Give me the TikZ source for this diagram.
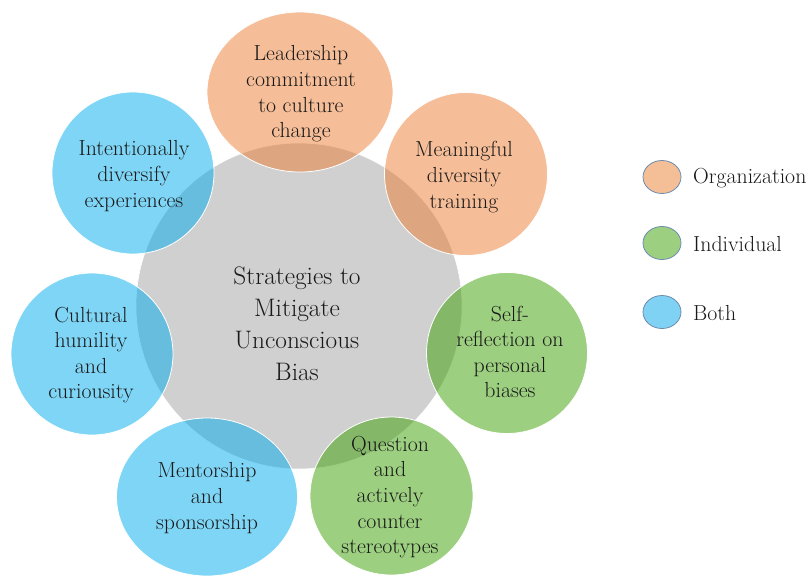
\documentclass[tikz,border=0pt]{standalone}
\usepackage{tikz}
\definecolor{orgfill}{RGB}{237,125,49}
\definecolor{indfill}{RGB}{59,159,1}
\definecolor{bothfill}{RGB}{0,172,236}
\definecolor{orgsolid}{RGB}{244,190,150}
\definecolor{indsolid}{RGB}{157,207,128}
\definecolor{bothsolid}{RGB}{127,210,243}
\definecolor{centergray}{RGB}{208,208,208}
\definecolor{txt}{RGB}{25,25,25}
\definecolor{legline}{RGB}{110,140,175}
\tikzset{
  bubble/.style={fill opacity=0.5, draw=white, draw opacity=1, line width=0.8pt},
  label/.style={align=center, text=txt, font=\fontsize{21.8}{25.6}\selectfont, inner sep=0pt},
  mainlabel/.style={align=center, text=txt, font=\fontsize{25.3}{32}\selectfont, inner sep=0pt},
  legtext/.style={anchor=west, text=txt, font=\fontsize{21.8}{24}\selectfont, inner sep=0pt},
  legdot/.style={draw=legline, line width=0.8pt}
}
\begin{document}
\begin{tikzpicture}[x=1pt,y=-1pt]
\useasboundingbox (0,0) rectangle (808,576);
% centre
\fill[centergray] (299,306) circle (163);
\draw[white, line width=0.6pt] (299,306) circle (163);
% bubbles
\path[bubble, fill=orgfill] (300,92) ellipse (93 and 80);
\path[bubble, fill=orgfill] (466,174) circle (81.5);
\path[bubble, fill=indfill] (507,353) circle (80.5);
\path[bubble, fill=indfill] (391.5,496) ellipse (81.5 and 79);
\path[bubble, fill=bothfill] (207,497) ellipse (90.5 and 79);
\path[bubble, fill=bothfill] (92,354) circle (81);
\path[bubble, fill=bothfill] (133,173) circle (81);
% texts
\node[mainlabel] (center) at (297,324) {Strategies to\\Mitigate\\Unconscious\\Bias};
\node[label] (lead) at (301,94) {Leadership\\commitment\\to culture\\change};
\node[label] (mean) at (464,177) {Meaningful\\diversity\\training};
\node[label] (self) at (510,352) {Self-\\reflection on\\personal\\biases};
\node[label] (quest) at (390,497) {Question\\and\\actively\\counter\\stereotypes};
\node[label] (ment) at (207,498) {Mentorship\\and\\sponsorship};
\node[label] (cult) at (91,355) {Cultural\\humility\\and\\curiousity};
\node[label] (inten) at (134,176) {Intentionally\\diversify\\experiences};
% legend
\draw[legdot, fill=orgsolid] (662,177) ellipse (19 and 16.5);
\draw[legdot, fill=indsolid] (662,243) ellipse (19 and 16.5);
\draw[legdot, fill=bothsolid] (662,312) ellipse (19 and 16.5);
\node[legtext] (lorg) at (693,178) {Organization};
\node[legtext] (lind) at (693,244) {Individual};
\node[legtext] (lboth) at (693,313) {Both};
\end{tikzpicture}
\end{document}
